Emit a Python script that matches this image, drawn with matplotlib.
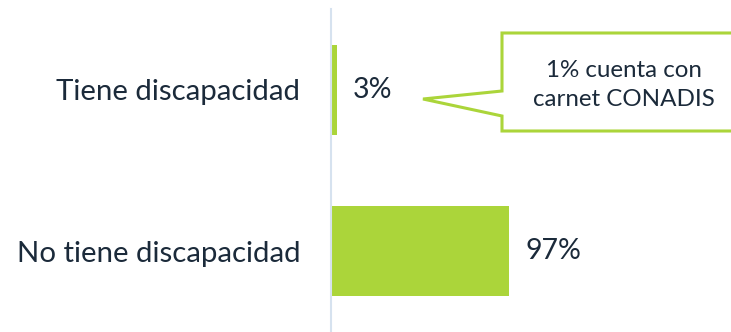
import matplotlib
matplotlib.use("Agg")
import matplotlib.pyplot as plt
from matplotlib.patches import Polygon

categories = ["Tiene discapacidad", "No tiene discapacidad"]
values = [3, 97]
value_labels = ["3%", "97%"]
callout_text = "1% cuenta con\ncarnet CONADIS"

green = "#abd53a"
ink = "#1b2a3a"
plt.rcParams["font.family"] = ["Lato", "DejaVu Sans"]

fig = plt.figure(figsize=(7.31, 3.32), dpi=100)
ax = fig.add_axes([331 / 731, 0, 183.5 / 731, 323 / 332])

ypos = range(len(categories))
ax.barh(ypos, values, height=0.556, color=green)
ax.set_xlim(0, 100)
ax.set_ylim(1.5, -0.5)

ax.set_yticks(list(ypos))
ax.set_yticklabels(categories, fontsize=21.2, color=ink)
ax.tick_params(axis="y", length=0, pad=22)
ax.set_xticks([])
for side in ["top", "right", "bottom"]:
    ax.spines[side].set_visible(False)
ax.spines["left"].set_color("#d6e2ef")
ax.spines["left"].set_linewidth(1.5)

for y, v, lab in zip(ypos, values, value_labels):
    ax.annotate(lab, (v, y), xytext=(12, 0), textcoords="offset points",
                va="center", ha="left", fontsize=20.5, color=ink)

# speech-bubble callout, drawn in figure pixels
W, H = 731, 332
pts = [(502, 33), (740, 33), (740, 131), (502, 131), (502, 116),
       (423, 99), (502, 91)]
poly = Polygon([(x / W, 1 - y / H) for x, y in pts], closed=True,
               transform=fig.transFigure, facecolor="white",
               edgecolor=green, linewidth=2.2, clip_on=False)
fig.add_artist(poly)
fig.text(624 / W, 1 - 85 / H, callout_text, ha="center", va="center",
         fontsize=17.4, color=ink, linespacing=1.45)

fig.savefig("out.png", dpi=100)
